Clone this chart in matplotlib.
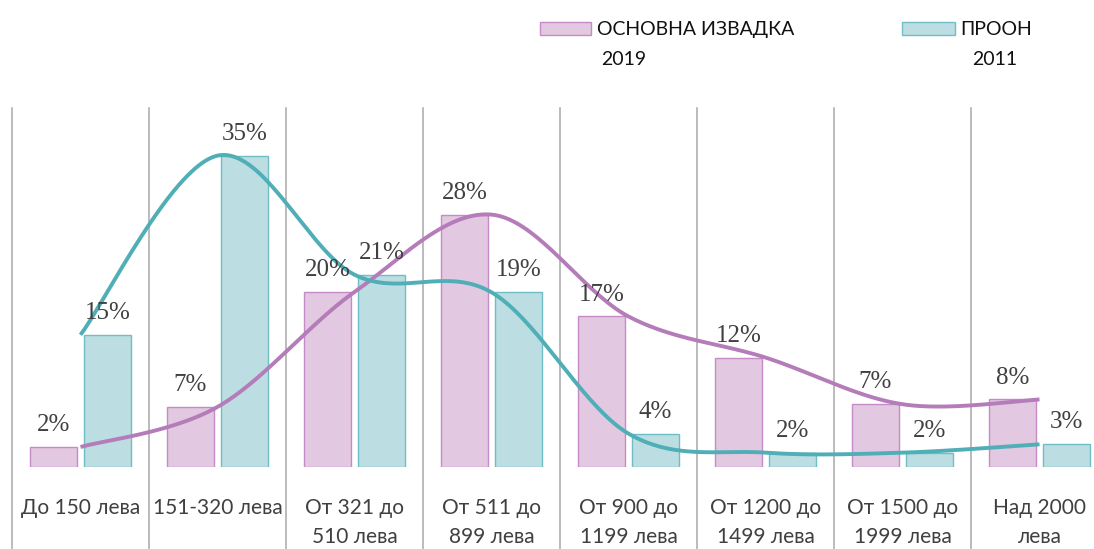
import matplotlib
matplotlib.use('Agg')
import matplotlib.pyplot as plt
import numpy as np
from matplotlib.patches import Rectangle

categories = ['До 150 лева', '151-320 лева', 'От 321 до\n510 лева', 'От 511 до\n899 лева',
              'От 900 до\n1199 лева', 'От 1200 до\n1499 лева', 'От 1500 до\n1999 лева', 'Над 2000\nлева']
main_2019 = [2.26, 6.72, 19.52, 28.13, 16.79, 12.22, 7.02, 7.55]
undp_2011 = [14.75, 34.7, 21.44, 19.48, 3.75, 1.63, 1.63, 2.56]
legend_main = ['ОСНОВНА ИЗВАДКА', '2019']
legend_undp = ['ПРООН', '2011']

PINK_FILL, PINK_EDGE, PINK_LINE = '#E2C8E0', '#C58BC6', '#B47CB8'
TEAL_FILL, TEAL_EDGE, TEAL_LINE = '#BCDEE2', '#6FBEC5', '#4FAEB6'
GRID = '#A8A8A8'
TXT = '#404040'
SANS = ['Lato', 'DejaVu Sans']
SERIF = ['Liberation Serif', 'DejaVu Serif']

W, H = 1094, 549
fig = plt.figure(figsize=(W / 100, H / 100), dpi=100)

# axes geometry in pixels
x0_px, cat_px = 12, 137
y0_px, ytop_px = 467.3, 108
YMAX = 40
px_per_unit = (y0_px - ytop_px) / YMAX
ax = fig.add_axes([x0_px / W, (H - y0_px) / H, cat_px * 8 / W, (y0_px - ytop_px) / H])
ax.set_xlim(-0.5, 7.5)
ax.set_ylim(0, YMAX)
ax.axis('off')

x = np.arange(len(categories))
bw, off = 0.336, 0.197
ax.bar(x - off, main_2019, bw, color=PINK_FILL, edgecolor=PINK_EDGE, linewidth=1.0, zorder=2)
ax.bar(x + off, undp_2011, bw, color=TEAL_FILL, edgecolor=TEAL_EDGE, linewidth=1.0, zorder=2)


def smooth(xs, ys, n=40):
    xs = np.asarray(xs, float)
    ys = np.asarray(ys, float)
    P = np.column_stack([xs, ys])
    out = []
    for i in range(len(P) - 1):
        p0 = P[i - 1] if i > 0 else P[i]
        p1, p2 = P[i], P[i + 1]
        p3 = P[i + 2] if i + 2 < len(P) else P[i + 1]
        c1 = p1 + (p2 - p0) / 6.0
        c2 = p2 - (p3 - p1) / 6.0
        t = np.linspace(0, 1, n)[:, None]
        seg = (1 - t) ** 3 * p1 + 3 * (1 - t) ** 2 * t * c1 + 3 * (1 - t) * t ** 2 * c2 + t ** 3 * p2
        out.append(seg if i == 0 else seg[1:])
    S = np.vstack(out)
    return S[:, 0], S[:, 1]


sx, sy = smooth(x, main_2019)
ax.plot(sx, sy, color=PINK_LINE, lw=2.8, zorder=4, solid_capstyle='butt')
sx, sy = smooth(x, undp_2011)
ax.plot(sx, sy, color=TEAL_LINE, lw=2.8, zorder=4, solid_capstyle='butt')

# data labels
for xi, v in zip(x, main_2019):
    ax.annotate(f'{v:.0f}%', (xi - off, v), xytext=(0, 11.5), textcoords='offset points',
                ha='center', va='baseline', fontsize=18, family=SERIF, color=TXT, zorder=5)
for xi, v in zip(x, undp_2011):
    ax.annotate(f'{v:.0f}%', (xi + off, v), xytext=(0, 11.5), textcoords='offset points',
                ha='center', va='baseline', fontsize=18, family=SERIF, color=TXT, zorder=5)

# category separators
ylo = -(H - y0_px) / px_per_unit
for k in range(len(categories)):
    ax.plot([k - 0.5, k - 0.5], [ylo, YMAX], color=GRID, lw=1.1, clip_on=False, zorder=1)

# category labels
for xi, lab in zip(x, categories):
    for j, ln in enumerate(lab.split('\n')):
        ycen = 506 + 29 * j
        ax.text(xi, (y0_px - ycen) / px_per_unit, ln, ha='center', va='center_baseline',
                fontsize=15, family=SANS, color=TXT, clip_on=False)


# legend
def fx(px):
    return px / W


def fy(py):
    return 1 - py / H


fig.patches.append(Rectangle((fx(540), fy(35)), fx(591) - fx(540), (35 - 22) / H,
                             transform=fig.transFigure, facecolor=PINK_FILL, edgecolor=PINK_EDGE, lw=1.0))
fig.patches.append(Rectangle((fx(902), fy(35)), fx(955) - fx(902), (35 - 22) / H,
                             transform=fig.transFigure, facecolor=TEAL_FILL, edgecolor=TEAL_EDGE, lw=1.0))
fig.text(fx(597), fy(28), legend_main[0], ha='left', va='center_baseline', fontsize=14, family=SANS, color='#111111')
fig.text(fx(624), fy(58), legend_main[1], ha='center', va='center_baseline', fontsize=14, family=SANS, color='#111111')
fig.text(fx(960), fy(28), legend_undp[0], ha='left', va='center_baseline', fontsize=14, family=SANS, color='#111111')
fig.text(fx(995), fy(58), legend_undp[1], ha='center', va='center_baseline', fontsize=14, family=SANS, color='#111111')

fig.savefig('out.png', dpi=100)
